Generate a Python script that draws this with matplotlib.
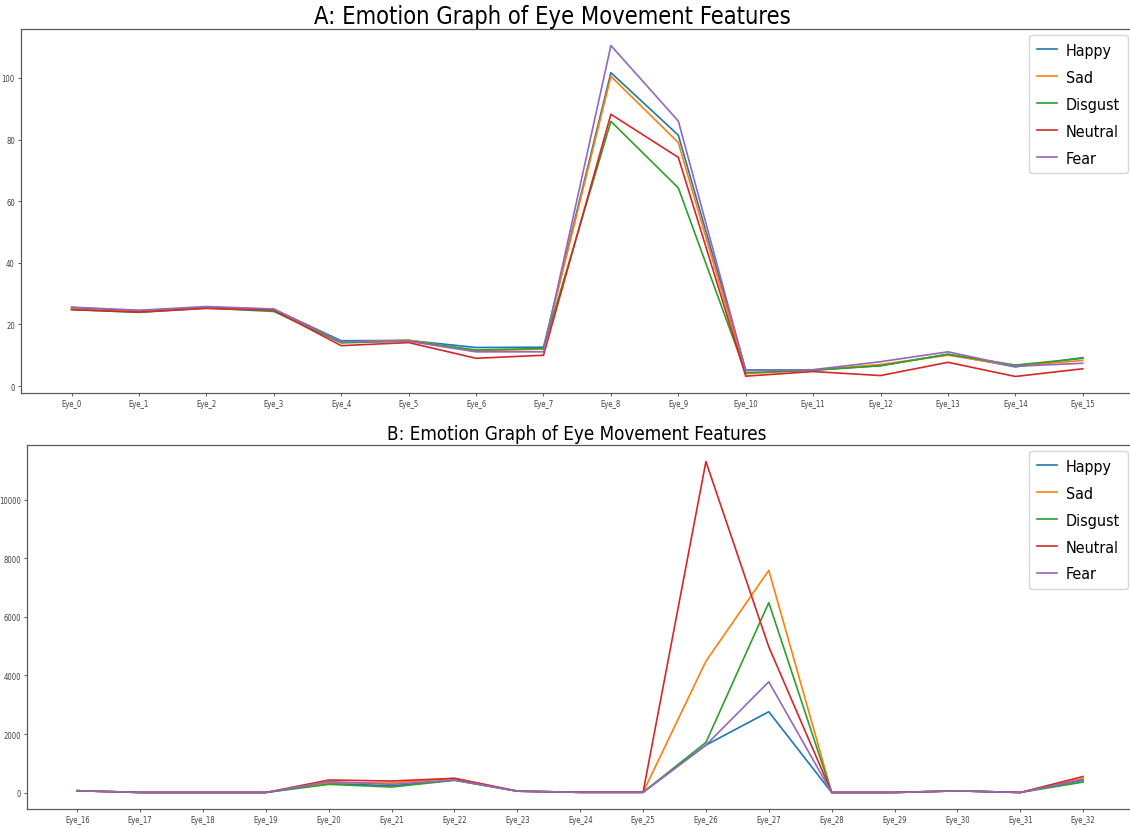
import matplotlib

matplotlib.use("Agg")
import matplotlib.pyplot as plt

emotions = ["Happy", "Sad", "Disgust", "Neutral", "Fear"]

# Eye movement features 0-15 (mean per emotion)
labels_a = [f"Eye_{i}" for i in range(16)]
happy_a = [25.5, 24.4, 25.6, 24.9, 14.7, 14.8, 12.5, 12.6, 101.7, 81.4, 5.2, 5.2, 6.6, 10.3, 6.2, 9.2]
sad_a = [25.0, 24.2, 25.4, 24.7, 14.2, 14.9, 11.4, 12.0, 100.5, 79.0, 4.0, 5.2, 7.0, 10.0, 6.5, 8.3]
disgust_a = [24.8, 23.9, 25.3, 24.2, 14.0, 14.6, 11.7, 12.2, 85.9, 64.3, 4.3, 5.1, 6.6, 10.3, 6.8, 9.0]
neutral_a = [24.8, 24.0, 25.2, 24.6, 13.1, 14.1, 9.0, 10.0, 88.2, 74.2, 3.2, 4.7, 3.4, 7.7, 3.1, 5.6]
fear_a = [25.6, 24.6, 25.8, 25.0, 14.4, 14.5, 11.1, 11.1, 110.5, 86.0, 5.0, 5.3, 7.9, 11.1, 6.4, 7.4]

# Eye movement features 16-32
labels_b = [f"Eye_{i}" for i in range(16, 33)]
happy_b = [65, 5, 5, 5, 320, 230, 430, 50, 10, 10, 1623, 2762, 5, 5, 60, 5, 420]
sad_b = [65, 5, 5, 5, 340, 330, 488, 50, 10, 10, 4487, 7590, 5, 5, 60, 5, 480]
disgust_b = [65, 5, 5, 5, 283, 191, 420, 50, 10, 10, 1715, 6488, 5, 5, 60, 5, 360]
neutral_b = [65, 5, 5, 5, 430, 396, 488, 50, 10, 10, 11306, 4977, 5, 5, 60, 5, 550]
fear_b = [65, 5, 5, 5, 375, 283, 430, 50, 10, 10, 1623, 3784, 5, 5, 60, 5, 450]

plt.rcParams["font.family"] = ["DejaVu Sans"]
plt.rcParams["font.stretch"] = "condensed"

fig = plt.figure(figsize=(11.3, 8.29), dpi=100)
ax_a = fig.add_axes([0.0186, 0.5247, 0.9844, 0.4391])
ax_b = fig.add_axes([0.0239, 0.0229, 0.9791, 0.4391])

panels = [
    (ax_a, labels_a, [happy_a, sad_a, disgust_a, neutral_a, fear_a], "A", 17, 0.478),
    (ax_b, labels_b, [happy_b, sad_b, disgust_b, neutral_b, fear_b], "B", 13.5, 0.497),
]

for ax, labels, series, tag, tsize, tx in panels:
    for name, values in zip(emotions, series):
        ax.plot(labels, values, label=name, lw=1.2)
    ax.set_title(f"{tag}: Emotion Graph of Eye Movement Features", fontsize=tsize, pad=4, x=tx)
    ax.tick_params(labelsize=5.5, length=2.5, width=0.6, pad=2, colors="0.25")
    for sp in ax.spines.values():
        sp.set_color("0.35")
        sp.set_linewidth(0.9)
    ax.legend(loc="upper right", fontsize=11.5, handlelength=1.25, handletextpad=0.55,
              labelspacing=0.75, borderpad=0.5, borderaxespad=0.35)

fig.savefig("out.png", dpi=100)
